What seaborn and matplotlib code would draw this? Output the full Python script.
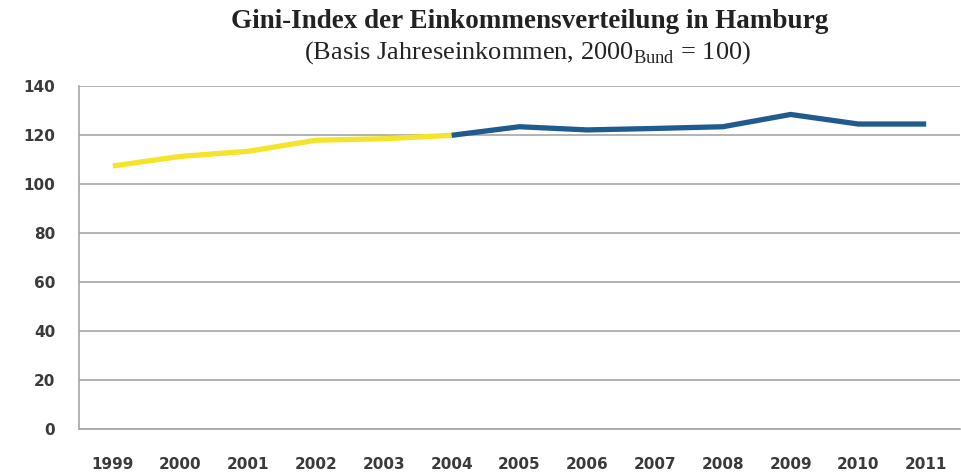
import pandas as pd
import matplotlib.pyplot as plt
import seaborn as sns
from matplotlib.ticker import FixedLocator

years = ['1999', '2000', '2001', '2002', '2003', '2004', '2005',
         '2006', '2007', '2008', '2009', '2010', '2011']
gini = [107.3, 111.2, 113.3, 117.8, 118.4, 119.8, 123.3,
        122.0, 122.6, 123.3, 128.3, 124.4, 124.4]
# first part (1999-2004) yellow, rest blue
split_year = '2004'
y_ticks = [0, 20, 40, 60, 80, 100, 120, 140]

title = 'Gini-Index der Einkommensverteilung in Hamburg'
subtitle = r'(Basis Jahreseinkommen, 2000$_{\mathrm{Bund}}$ = 100)'


def main():
    sns.set_style('white')
    plt.rcParams['mathtext.fontset'] = 'custom'
    plt.rcParams['mathtext.rm'] = 'Liberation Serif'

    df = pd.DataFrame({'pos': range(len(years)), 'year': years, 'gini': gini})
    cut = years.index(split_year)
    first = df[df['pos'] <= cut]
    second = df[df['pos'] >= cut]

    fig = plt.figure(figsize=(9.62, 4.74), dpi=100)
    ax = fig.add_axes([0.082, 0.095, 0.916, 0.724])

    for v in y_ticks:
        ax.axhline(v, color='#a6a6a6', lw=1.2, zorder=0)

    sns.lineplot(data=first, x='pos', y='gini', color='#f4e42a', lw=3.8,
                 ax=ax, solid_capstyle='butt')
    sns.lineplot(data=second, x='pos', y='gini', color='#1f5b8e', lw=3.8,
                 ax=ax, solid_capstyle='butt')

    ax.set_xlim(-0.5, len(years) - 0.5)
    ax.set_ylim(0, 140)
    ax.set_yticks(y_ticks)
    ax.set_xticks(range(len(years)))
    ax.set_xticklabels(years)
    ax.xaxis.set_minor_locator(FixedLocator([i - 0.5 for i in range(len(years) + 1)]))
    ax.tick_params(axis='x', which='major', length=0, pad=20)
    ax.tick_params(axis='x', which='minor', length=7, width=1.2,
                   color='#a6a6a6', direction='out')
    ax.tick_params(axis='y', length=7, width=1.2, color='#a6a6a6',
                   direction='out', pad=10)
    for lab in ax.get_xticklabels() + ax.get_yticklabels():
        lab.set_fontsize(11)
        lab.set_fontweight('bold')
        lab.set_color('#3a3a3a')
    ax.set_xlabel('')
    ax.set_ylabel('')

    for side in ['top', 'right']:
        ax.spines[side].set_visible(False)
    for side in ['left', 'bottom']:
        ax.spines[side].set_color('#a6a6a6')
        ax.spines[side].set_linewidth(1.2)

    fig.text(0.551, 0.955, title, ha='center', va='center', fontsize=19.5,
             fontweight='bold', family='Liberation Serif', color='#222222')
    fig.text(0.548, 0.889, subtitle, ha='center', va='center', fontsize=19,
             family='Liberation Serif', color='#222222')

    fig.savefig('out.png', dpi=100)


if __name__ == '__main__':
    main()
